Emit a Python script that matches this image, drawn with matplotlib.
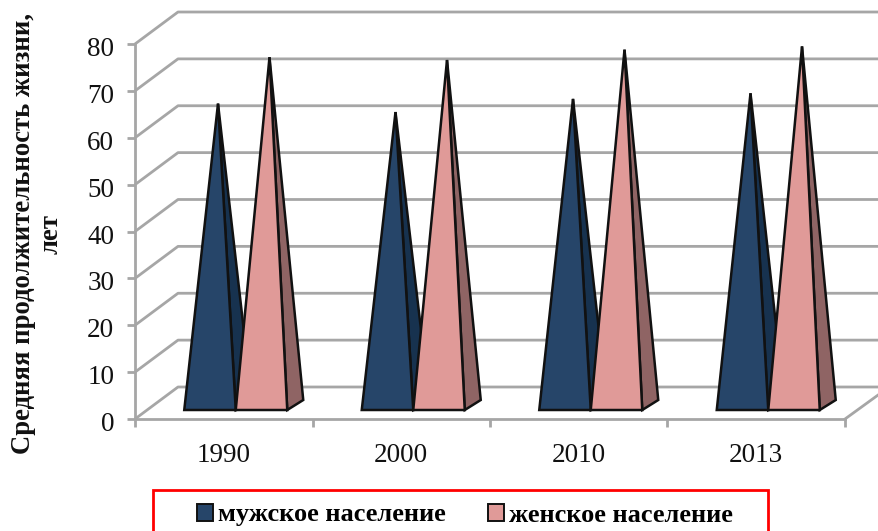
import matplotlib
matplotlib.use('Agg')
import matplotlib.pyplot as plt
from matplotlib.patches import Polygon, Rectangle, Patch
from matplotlib.transforms import ScaledTranslation

plt.rcParams['font.family'] = ['Liberation Serif', 'DejaVu Serif']

# Values
years = ['1990', '2000', '2010', '2013']
male = [64.3, 62.5, 65.3, 66.5]
female = [74.2, 73.6, 75.8, 76.5]
y_ticks = [0, 10, 20, 30, 40, 50, 60, 70, 80]
series_names = ['мужское население', 'женское население']

W, H = 879, 531
GRID = '#a6a6a6'
MALE_FRONT, MALE_SIDE = '#264569', '#17324f'
FEMALE_FRONT, FEMALE_SIDE = '#e09a98', '#8f6464'

fig = plt.figure(figsize=(W / 100, H / 100), dpi=100)
ax = fig.add_axes([135 / W, (H - 419) / H, 710 / W, 375 / H])
ax.set_xlim(0, 4)
ax.set_ylim(0, 80)
ax.patch.set_visible(False)

# pixels to data units, the 3d look is only a skew
px_x = 4 / 710
px_y = 80 / 375
depth_x, depth_y = 43 * px_x, 32 * px_y
bar_w = 51.5 * px_x
bar_dx, bar_dy = 12 * px_x, 9 * px_y
base_dx, base_dy = 16 * px_x, 10 * px_y
right_end = (W + 5 - 135) * px_x

# gridlines: side wall diagonal + back wall
for v in y_ticks:
    ax.plot([0, depth_x, right_end], [v, v + depth_y, v + depth_y], color=GRID,
            lw=2, clip_on=False, zorder=1, solid_capstyle='butt')
ax.plot([4, 4 + 40 * px_x], [0, 29 * px_y], color=GRID, lw=2, clip_on=False, zorder=1)


def pyramid(x, value, front, side):
    x0 = x + bar_dx
    x1 = x0 + bar_w
    y0 = bar_dy
    apex = (x0 + bar_w / 2 + base_dx / 2, y0 + base_dy / 2 + value)
    ax.add_patch(Polygon([(x1, y0), (x1 + base_dx, y0 + base_dy), apex], closed=True,
                         facecolor=side, edgecolor='#111111', lw=1.8, clip_on=False, zorder=3))
    ax.add_patch(Polygon([(x0, y0), (x1, y0), apex], closed=True,
                         facecolor=front, edgecolor='#111111', lw=1.8, clip_on=False, zorder=3))


for i in range(len(years)):
    pyramid(i + 0.5 - bar_w, male[i], MALE_FRONT, MALE_SIDE)
    pyramid(i + 0.5, female[i], FEMALE_FRONT, FEMALE_SIDE)

for name in ['top', 'right']:
    ax.spines[name].set_visible(False)
for name in ['left', 'bottom']:
    ax.spines[name].set_color(GRID)
    ax.spines[name].set_linewidth(2)
    ax.spines[name].set_zorder(2)

ax.set_yticks(y_ticks)
ax.set_xticks(range(5))
ax.set_xticklabels([])
ax.set_xticks([i + 0.5 for i in range(4)], minor=True)
ax.set_xticklabels(years, minor=True)
ax.tick_params(axis='both', which='major', color=GRID, width=2, length=6)
ax.tick_params(axis='x', which='minor', length=0, pad=17)
ax.tick_params(axis='y', labelsize=19.5, pad=9, labelcolor='#111111')
ax.tick_params(axis='x', which='minor', labelsize=19.5, labelcolor='#111111')

# value labels sit a little below their ticks in the original
shift_down = ScaledTranslation(0, -2.5 / 100, fig.dpi_scale_trans)
for label in ax.get_yticklabels():
    label.set_transform(label.get_transform() + shift_down)

fig.text(37 / W, 1 - 234 / H, 'Средняя продолжительность жизни,\nлет', rotation=90,
         ha='center', va='center', ma='center', fontsize=19.2, fontweight='bold',
         color='#111111', linespacing=1.15)

# legend box runs off the bottom edge of the picture
fig.add_artist(Rectangle((153 / W, 1 - 545 / H), 615 / W, 55 / H, transform=fig.transFigure,
                         facecolor='white', edgecolor='#ff0000', lw=2))
handles = [Patch(facecolor=MALE_FRONT, edgecolor='#111111', lw=1.4),
           Patch(facecolor=FEMALE_FRONT, edgecolor='#111111', lw=1.4)]
fig.legend(handles, series_names, loc='center', bbox_to_anchor=(465 / W, 1 - 515 / H),
           ncol=2, frameon=False, prop={'weight': 'bold', 'size': 19},
           handlelength=0.6, handleheight=0.6, handletextpad=0.2, columnspacing=1.6)

fig.savefig('out.png', dpi=100, facecolor='white')
